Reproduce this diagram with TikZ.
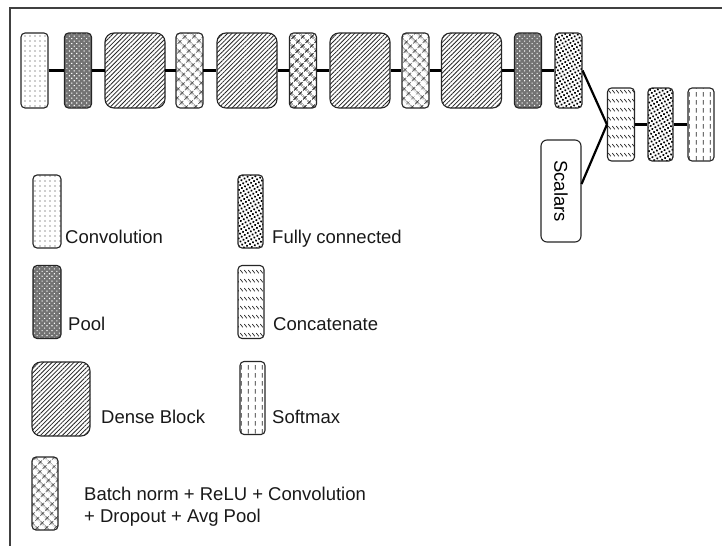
\documentclass[tikz,border=0pt]{standalone}
\usepackage{fontspec}
\setmainfont{Liberation Sans}
\usetikzlibrary{patterns.meta}

\pgfdeclarepattern{
  name=ConcatDash, type=uncolored,
  bottom left={\pgfpoint{0pt}{0pt}}, top right={\pgfpoint{4pt}{9pt}},
  tile size={\pgfpoint{4pt}{9pt}},
  code={\pgfsetlinewidth{0.8pt}\pgfpathmoveto{\pgfpoint{0.4pt}{6.5pt}}\pgfpathlineto{\pgfpoint{3.4pt}{3pt}}\pgfusepath{stroke}}}
\pgfdeclarepattern{
  name=SoftDash, type=uncolored,
  bottom left={\pgfpoint{0pt}{0pt}}, top right={\pgfpoint{7pt}{8pt}},
  tile size={\pgfpoint{7pt}{8pt}},
  code={\pgfsetlinewidth{0.85pt}\pgfpathmoveto{\pgfpoint{3.5pt}{1.5pt}}\pgfpathlineto{\pgfpoint{3.5pt}{6.5pt}}\pgfusepath{stroke}}}

\tikzset{
  blk/.style={draw=black!85, line width=1.1pt, rounded corners=4pt, minimum width=27pt, minimum height=75pt, inner sep=0pt},
  dblk/.style={blk, minimum width=60pt, rounded corners=9pt},
  lblk/.style={blk, minimum height=73pt},
  convp/.style={pattern={Dots[distance=5pt,radius=0.6pt]}, pattern color=black!80},
  poolp/.style={preaction={fill=black!55}, pattern={Dots[distance=3.5pt,radius=0.75pt,angle=45]}, pattern color=white},
  densep/.style={pattern={Lines[angle=45,distance=3.1pt,line width=0.8pt]}, pattern color=black!85},
  bnp/.style={pattern={Hatch[angle=45,distance=6.4pt,line width=0.95pt]}, pattern color=black!90},
  fcp/.style={pattern={Dots[distance=3.5pt,radius=1.2pt,angle=30]}, pattern color=black},
  catp/.style={pattern=ConcatDash, pattern color=black!85},
  softp/.style={pattern=SoftDash, pattern color=black!85},
  conn/.style={line width=2.2pt, black},
  lbl/.style={anchor=base west, inner sep=0pt, text=black!90},
}

\begin{document}
\begin{tikzpicture}[x=1pt, y=-1pt, font=\fontsize{18.5}{22.5}\selectfont]
\useasboundingbox (0,0) rectangle (722,546);
\fill[white] (0,0) rectangle (722,546);
% frame
\coordinate (ftr) at (722,8);
\coordinate (ftl) at (10,8);
\coordinate (fbl) at (10,546);
\draw[line width=1.6pt, black!75] (ftr) -- (ftl) -- (fbl);

% top row
\node[blk, convp]  (conv1)  at (34.5,70.5) {};
\node[blk, poolp]  (pool1)  at (78,70.5) {};
\node[dblk, densep] (dense1) at (135,70.5) {};
\node[blk, bnp]    (bn1)    at (189.5,70.5) {};
\node[dblk, densep] (dense2) at (247,70.5) {};
\node[blk, bnp]    (bn2)    at (303,70.5) {};
\node[dblk, densep] (dense3) at (360,70.5) {};
\node[blk, bnp]    (bn3)    at (415.5,70.5) {};
\node[dblk, densep] (dense4) at (471.5,70.5) {};
\node[blk, poolp]  (pool2)  at (528,70.5) {};
\node[blk, fcp]    (fc1)    at (568.5,70.5) {};

% second row
\node[lblk, catp]  (cat)  at (621,124.5) {};
\node[lblk, fcp, minimum width=25pt] (fc2) at (660.5,124.5) {};
\node[lblk, softp, minimum width=26pt] (soft) at (701,124.5) {};
\node[draw=black!85, line width=1.1pt, rounded corners=6pt, minimum width=40pt, minimum height=102pt, inner sep=0pt, fill=white] (scal) at (561,191) {\rotatebox{-90}{Scalars}};

% connectors
\draw[conn] (conv1) -- (pool1);
\draw[conn] (pool1) -- (dense1);
\draw[conn] (dense1) -- (bn1);
\draw[conn] (bn1) -- (dense2);
\draw[conn] (dense2) -- (bn2);
\draw[conn] (bn2) -- (dense3);
\draw[conn] (dense3) -- (bn3);
\draw[conn] (bn3) -- (dense4);
\draw[conn] (dense4) -- (pool2);
\draw[conn] (pool2) -- (fc1);
\draw[conn] (fc1.east) -- (cat.west);
\draw[conn] ([yshift=7pt]scal.east) -- (cat.west);
\draw[conn] (cat) -- (fc2);
\draw[conn] (fc2) -- (soft);

% legend
\node[lblk, convp, minimum width=28pt] (lconv) at (47,211.5) {};
\node[lbl] (tconv) at (65,243) {Convolution};
\node[lblk, fcp, minimum width=25pt] (lfc) at (250.5,211.5) {};
\node[lbl] (tfc) at (272,243) {Fully connected};
\node[lblk, poolp, minimum width=28pt] (lpool) at (47,302) {};
\node[lbl] (tpool) at (68,330) {Pool};
\node[lblk, catp, minimum width=26pt] (lcat) at (251,302) {};
\node[lbl] (tcat) at (273,330) {Concatenate};
\node[dblk, densep, minimum width=58pt, minimum height=74pt] (ldense) at (61,399) {};
\node[lbl] (tdense) at (101,423) {Dense Block};
\node[lblk, softp, minimum width=25pt] (lsoft) at (252.5,398) {};
\node[lbl] (tsoft) at (272,423) {Softmax};
\node[lblk, bnp, minimum width=26pt] (lbn) at (45,493.5) {};
\node[lbl] (tbn1) at (84,500) {Batch norm + ReLU + Convolution};
\node[lbl] (tbn2) at (84,522) {+ Dropout + Avg Pool};
\end{tikzpicture}
\end{document}
